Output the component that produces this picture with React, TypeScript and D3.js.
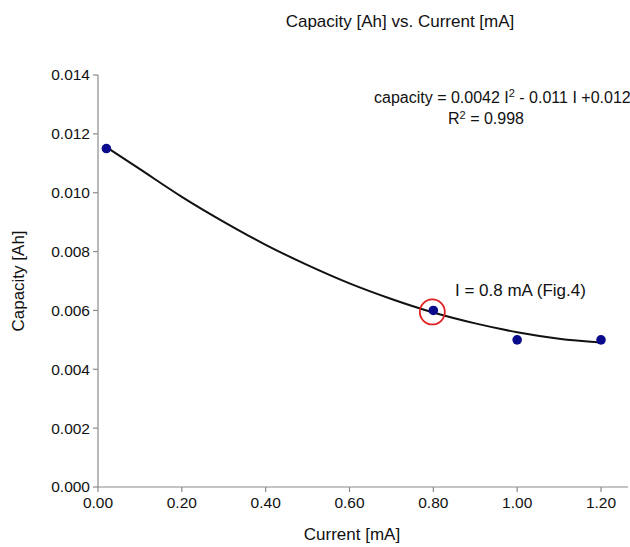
import React from "react";
import * as d3 from "d3";

const WIDTH = 630;
const HEIGHT = 547;

// Measured data points (Current [mA], Capacity [Ah])
const currents = [0.02, 0.8, 1.0, 1.2];
const capacities = [0.0115, 0.006, 0.005, 0.005];

// Trend line
const trendCurrents = [0.02, 0.1, 0.2, 0.3, 0.4, 0.5, 0.6, 0.7, 0.8, 0.9, 1.0, 1.1, 1.2];
const trendCapacities = [0.01155, 0.0108, 0.00986, 0.00901, 0.00823, 0.00754, 0.00692, 0.00639, 0.00593, 0.00556, 0.00526, 0.00504, 0.00491];

const xTicks = [0, 0.2, 0.4, 0.6, 0.8, 1.0, 1.2];
const yTicks = [0, 0.002, 0.004, 0.006, 0.008, 0.01, 0.012, 0.014];

const title = "Capacity [Ah] vs. Current [mA]";
const xTitle = "Current [mA]";
const yTitle = "Capacity [Ah]";
const highlightIndex = 1;
const highlightLabel = "I = 0.8 mA (Fig.4)";

const FONT = "'Liberation Sans', Arial, Helvetica, sans-serif";

export default function App() {
  const left = 98;
  const top = 75;
  const bottom = 487;
  const x = d3.scaleLinear().domain([0, 1.2]).range([left, 601]);
  const y = d3.scaleLinear().domain([0, 0.014]).range([bottom, top]);
  const xEnd = WIDTH - 2;

  const trend = d3
    .line<number>()
    .x((_, i) => x(trendCurrents[i]))
    .y((d) => y(d))
    .curve(d3.curveMonotoneX);

  const axisColor = "#8a8a8a";
  const hx = x(currents[highlightIndex]);
  const hy = y(capacities[highlightIndex]);

  return (
    <svg
      width={WIDTH}
      height={HEIGHT}
      style={{ position: "absolute", left: 0, top: 0, background: "#fff" }}
      fontFamily={FONT}
    >
      <rect width={WIDTH} height={HEIGHT} fill="#fff" />
      <text x={400} y={27} textAnchor="middle" fontSize={17} fill="#111">
        {title}
      </text>

      {/* y axis */}
      <line x1={left} x2={left} y1={top} y2={bottom} stroke={axisColor} strokeWidth={1.2} />
      {yTicks.map((t) => (
        <g key={"y" + t}>
          <line x1={left - 5} x2={left} y1={y(t)} y2={y(t)} stroke={axisColor} strokeWidth={1.2} />
          <text x={left - 8} y={y(t)} dy="0.35em" textAnchor="end" fontSize={15.5} fill="#111">
            {d3.format(".3f")(t)}
          </text>
        </g>
      ))}

      {/* x axis */}
      <line x1={left} x2={xEnd} y1={bottom} y2={bottom} stroke={axisColor} strokeWidth={1.2} />
      {xTicks.map((t) => (
        <g key={"x" + t}>
          <line x1={x(t)} x2={x(t)} y1={bottom} y2={bottom + 5} stroke={axisColor} strokeWidth={1.2} />
          <text x={x(t)} y={bottom + 21} textAnchor="middle" fontSize={15.5} fill="#111">
            {d3.format(".2f")(t)}
          </text>
        </g>
      ))}

      <text x={352} y={540} textAnchor="middle" fontSize={17} fill="#111">
        {xTitle}
      </text>
      <text
        transform={`translate(24, ${(top + bottom) / 2}) rotate(-90)`}
        textAnchor="middle"
        fontSize={17}
        fill="#111"
      >
        {yTitle}
      </text>

      {/* trend line */}
      <path d={trend(trendCapacities) || ""} fill="none" stroke="#111" strokeWidth={2} />

      {/* points */}
      {currents.map((c, i) => (
        <circle key={"p" + i} cx={x(c)} cy={y(capacities[i])} r={4.8} fill="#0a0a8c" />
      ))}

      {/* highlight */}
      <circle cx={hx - 1} cy={hy + 1.5} r={12.5} fill="none" stroke="#e02020" strokeWidth={1.8} />
      <text x={455} y={296} fontSize={17} fill="#111">
        {highlightLabel}
      </text>

      {/* equation */}
      <text x={374} y={103} fontSize={16} fill="#111">
        capacity = 0.0042 I<tspan dy={-6} fontSize={11}>2</tspan>
        <tspan dy={6}> - 0.011 I +0.012</tspan>
      </text>
      <text x={448} y={124} fontSize={16} fill="#111">
        R<tspan dy={-5} fontSize={11}>2</tspan>
        <tspan dy={5}> = 0.998</tspan>
      </text>
    </svg>
  );
}
